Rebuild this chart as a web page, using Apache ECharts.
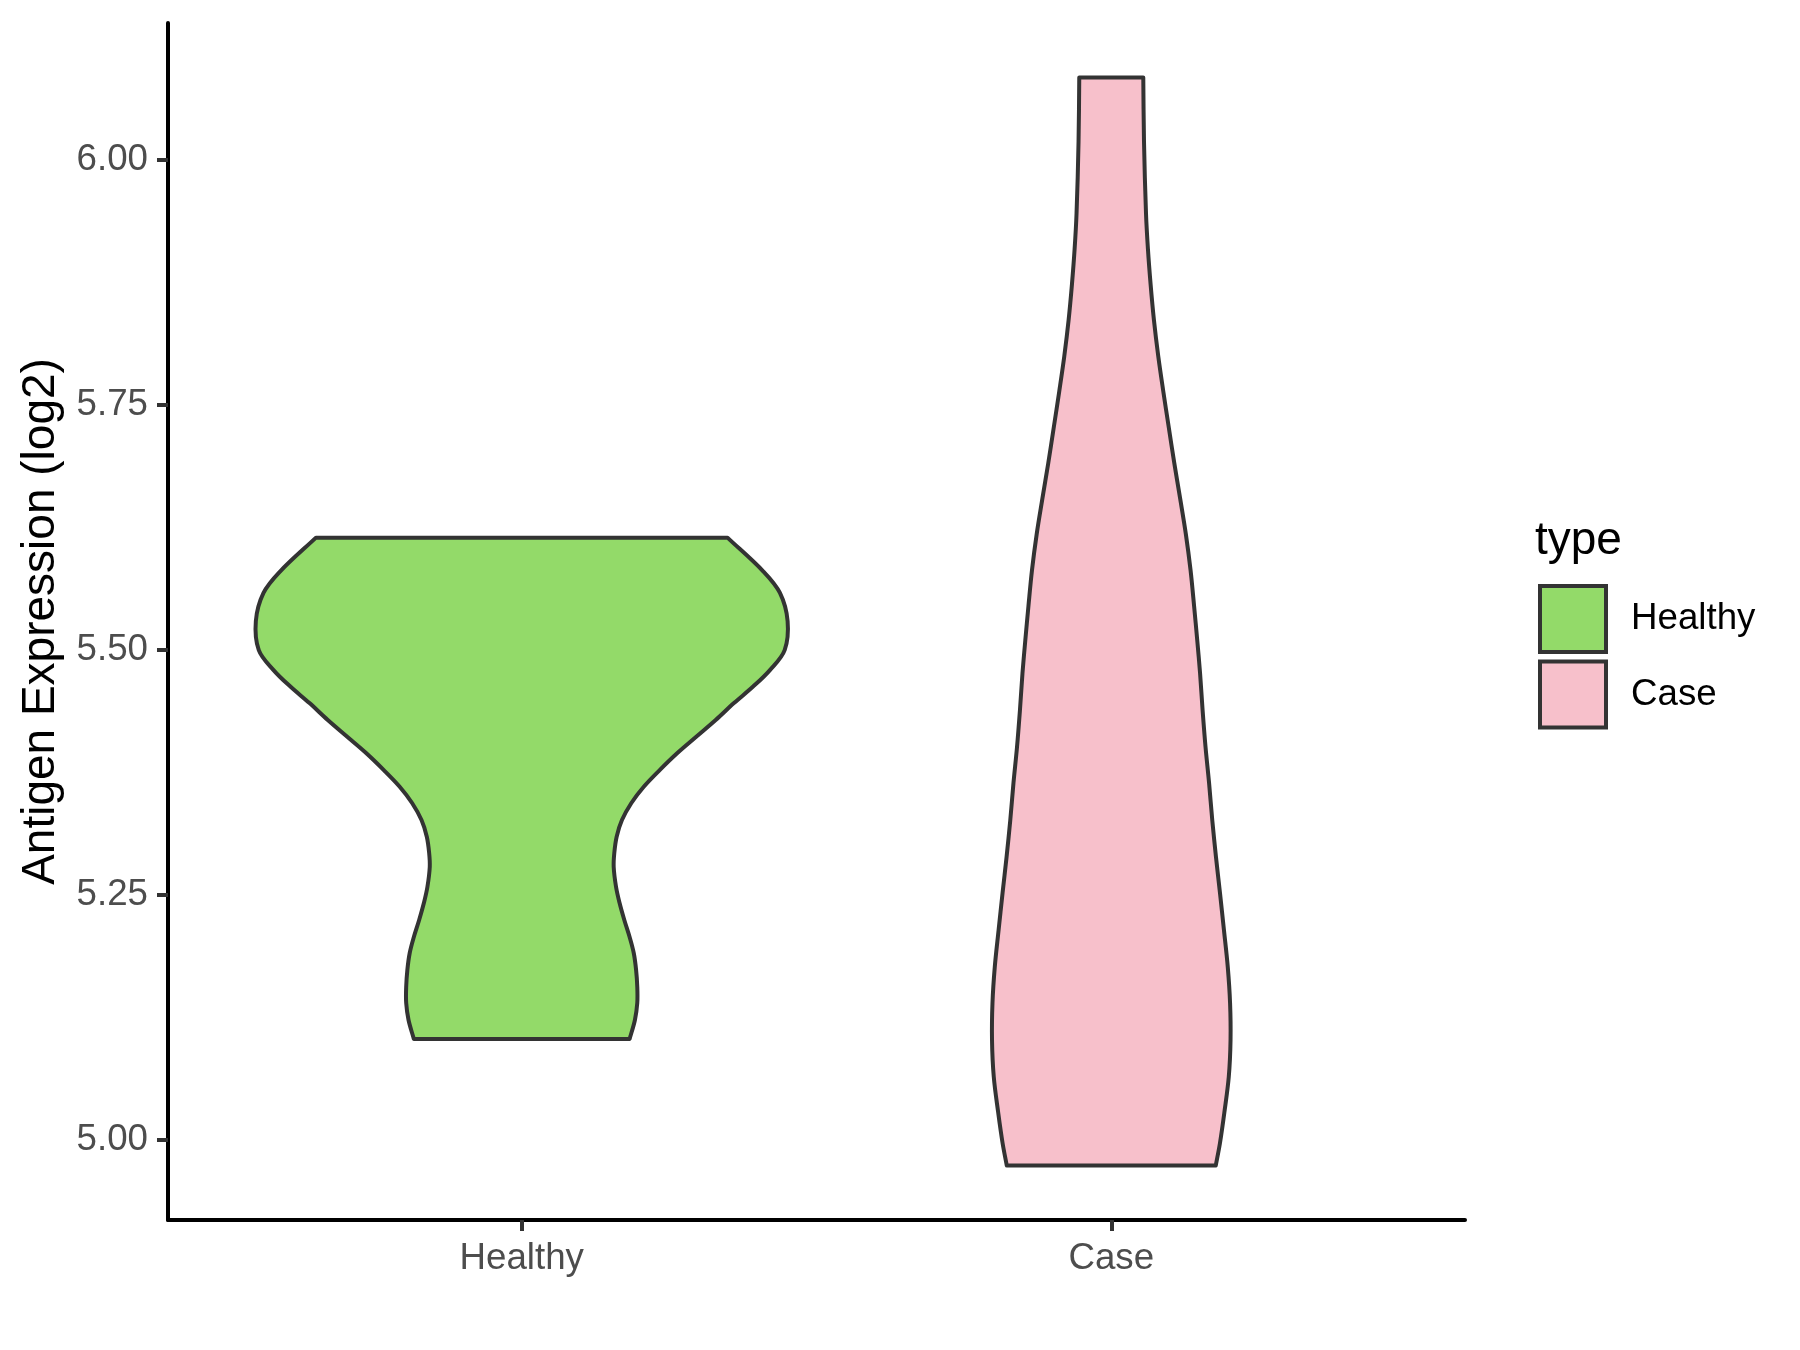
<!DOCTYPE html>
<html>
<head>
<meta charset="utf-8">
<script src="https://cdn.jsdelivr.net/npm/echarts@6/dist/echarts.min.js"></script>
<style>
  html, body { margin: 0; padding: 0; background: #ffffff; }
  #chart { width: 1800px; height: 1350px; }
</style>
</head>
<body>
<div id="chart"></div>
<script>
// ---- Data ----
const categories = ['Healthy', 'Case'];
const yTicks = [5.00, 5.25, 5.50, 5.75, 6.00];

// Healthy violin outline: expression values (top -> bottom) and half-widths (category units)
const healthyValues = [5.6143, 5.5797, 5.5578, 5.5291, 5.4995, 5.4791, 5.4620, 5.4454, 5.4281, 5.4110,
                       5.3944, 5.3770, 5.3600, 5.3434, 5.3260, 5.3090, 5.2923, 5.2781, 5.2577, 5.2413,
                       5.2240, 5.2066, 5.1903, 5.1730, 5.1556, 5.1393, 5.1219, 5.1026];
const healthyWidths = [0.349, 0.410, 0.438, 0.451, 0.446, 0.421, 0.392, 0.360, 0.329, 0.296,
                       0.264, 0.234, 0.207, 0.186, 0.170, 0.161, 0.157, 0.156, 0.160, 0.166,
                       0.174, 0.183, 0.190, 0.194, 0.196, 0.196, 0.192, 0.183];

// Case violin outline
const caseValues = [6.0841, 6.0189, 5.9454, 5.9087, 5.8730, 5.8362, 5.7995, 5.7638, 5.7270, 5.6903,
                    5.6536, 5.6179, 5.5811, 5.5444, 5.5097, 5.4760, 5.4383, 5.4005, 5.3638, 5.3260,
                    5.2883, 5.2515, 5.2138, 5.1760, 5.1393, 5.1015, 5.0638, 5.0270, 4.9964, 4.9733];
const caseWidths = [0.0543, 0.0555, 0.0589, 0.0622, 0.0667, 0.0724, 0.0797, 0.0882, 0.0975, 0.1069,
                    0.1170, 0.1265, 0.1345, 0.1405, 0.1458, 0.1506, 0.1549, 0.1599, 0.1659, 0.1713,
                    0.1776, 0.1844, 0.1911, 0.1976, 0.2015, 0.2023, 0.1993, 0.1917, 0.1844, 0.1772];

const colors = { Healthy: '#93DA69', Case: '#F7C0CB' };
const FONT = "'Liberation Sans', Arial, Helvetica, sans-serif";

// y range: data range expanded by 5% (as ggplot does)
const allVals = healthyValues.concat(caseValues);
const dMin = Math.min.apply(null, allVals), dMax = Math.max.apply(null, allVals);
const pad = (dMax - dMin) * 0.05;

function violinRender(pos, vals, widths, fill) {
  return function (params, api) {
    if (params.dataIndex !== 0) return null;
    const left = [], right = [];
    for (let i = 0; i < vals.length; i++) {
      left.push(api.coord([pos - widths[i], vals[i]]));
      right.push(api.coord([pos + widths[i], vals[i]]));
    }
    const n = vals.length;
    const pts = [];
    pts.push(left[0]); pts.push(left[0]);
    for (let i = 1; i < n - 1; i++) pts.push(left[i]);
    pts.push(left[n - 1]); pts.push(left[n - 1]);
    pts.push(right[n - 1]); pts.push(right[n - 1]);
    for (let i = n - 2; i >= 1; i--) pts.push(right[i]);
    pts.push(right[0]); pts.push(right[0]);
    return {
      type: 'polygon',
      shape: { points: pts, smooth: 0.35 },
      style: { fill: fill, stroke: '#333333', lineWidth: 4, lineJoin: 'round' }
    };
  };
}

function toData(pos, vals) {
  return vals.map(v => [pos, v]);
}

const chart = echarts.init(document.getElementById('chart'), null, { renderer: 'canvas' });
chart.setOption({
  backgroundColor: '#ffffff',
  animation: false,
  textStyle: { fontFamily: FONT },
  grid: { left: 168, right: 335, top: 23, bottom: 130, containLabel: false },
  title: {
    text: 'type', left: 1535, top: 518, padding: 0,
    textStyle: { fontFamily: FONT, fontSize: 46, fontWeight: 'normal', color: '#000000' }
  },
  legend: {
    orient: 'vertical', left: 1538, top: 584, padding: 0,
    itemWidth: 66, itemHeight: 66, itemGap: 5.5,
    selectedMode: false,
    data: categories.map(c => ({
      name: c, icon: 'rect',
      itemStyle: { color: colors[c], borderColor: '#333333', borderWidth: 4 }
    })),
    textStyle: { fontFamily: FONT, fontSize: 36.7, color: '#000000', padding: [0, 0, 0, 20] }
  },
  xAxis: {
    type: 'value', min: 0.4, max: 2.6,
    axisLine: { show: true, onZero: false, lineStyle: { color: '#000000', width: 4 } },
    axisTick: { show: true, customValues: [1, 2], length: 11, lineStyle: { color: '#333333', width: 4 } },
    axisLabel: {
      show: true, customValues: [1, 2], margin: 20,
      formatter: v => categories[Math.round(v) - 1] || '',
      fontFamily: FONT, fontSize: 36.7, color: '#4D4D4D'
    },
    splitLine: { show: false }
  },
  yAxis: {
    type: 'value', min: dMin - pad, max: dMax + pad,
    name: 'Antigen Expression (log2)', nameLocation: 'middle', nameGap: 127,
    nameTextStyle: { fontFamily: FONT, fontSize: 46, color: '#000000', verticalAlign: 'middle' },
    axisLine: { show: true, onZero: false, lineStyle: { color: '#000000', width: 4 } },
    axisTick: { show: true, customValues: yTicks, length: 11, lineStyle: { color: '#333333', width: 4 } },
    axisLabel: {
      show: true, customValues: yTicks, margin: 20,
      formatter: v => Number(v).toFixed(2),
      fontFamily: FONT, fontSize: 36.7, color: '#4D4D4D'
    },
    splitLine: { show: false }
  },
  series: [
    {
      name: 'Healthy', type: 'custom',
      itemStyle: { color: colors.Healthy, borderColor: '#333333', borderWidth: 4 },
      renderItem: violinRender(1, healthyValues, healthyWidths, colors.Healthy),
      encode: { x: 0, y: 1 },
      data: toData(1, healthyValues),
      clip: false
    },
    {
      name: 'Case', type: 'custom',
      itemStyle: { color: colors.Case, borderColor: '#333333', borderWidth: 4 },
      renderItem: violinRender(2, caseValues, caseWidths, colors.Case),
      encode: { x: 0, y: 1 },
      data: toData(2, caseValues),
      clip: false
    }
  ]
});
</script>
</body>
</html>
